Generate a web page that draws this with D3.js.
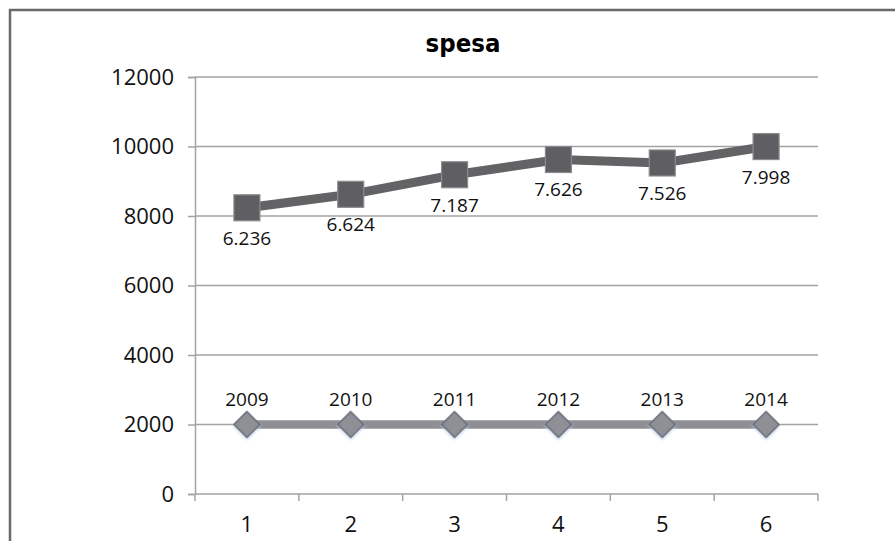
<!DOCTYPE html>
<html>
<head>
<meta charset="utf-8">
<script src="https://cdn.jsdelivr.net/npm/d3@7"></script>
<style>
  html, body { margin: 0; padding: 0; background: #ffffff; }
  svg { display: block; }
</style>
</head>
<body>
<svg id="chart" width="895" height="541"></svg>
<script>
// ---- data ----
const categories = ["1", "2", "3", "4", "5", "6"];
const years = ["2009", "2010", "2011", "2012", "2013", "2014"];
const baseValues = [2000, 2000, 2000, 2000, 2000, 2000];
const spesaValues = [6236, 6624, 7187, 7626, 7526, 7998];
const yTicks = [0, 2000, 4000, 6000, 8000, 10000, 12000];
const chartTitle = "spesa";

const svg = d3.select("#chart");

// outer frame of the chart area (extends past the window)
svg.append("rect")
  .attr("x", 10).attr("y", 10)
  .attr("width", 1000).attr("height", 700)
  .attr("fill", "#ffffff")
  .attr("stroke", "#6a6a6a")
  .attr("stroke-width", 2.5);

const plot = { left: 195, right: 818, top: 77, bottom: 494 };

const x = d3.scaleBand().domain(categories).range([plot.left, plot.right]).padding(0);
const y = d3.scaleLinear().domain([0, 12000]).range([plot.bottom, plot.top]);

// stacked values (stacked line chart)
const rows = categories.map((c, i) => ({ cat: c, year: years[i], base: baseValues[i], spesa: spesaValues[i] }));
const stack = d3.stack().keys(["base", "spesa"]);
const series = stack(rows);

const itFmt = d3.formatLocale({ decimal: ",", thousands: ".", grouping: [3], currency: ["€", ""] }).format(",d");

// gridlines
svg.append("g").selectAll("line")
  .data(yTicks.filter(d => d > 0))
  .join("line")
  .attr("x1", plot.left).attr("x2", plot.right)
  .attr("y1", d => y(d)).attr("y2", d => y(d))
  .attr("stroke", "#a3a3a3").attr("stroke-width", 1.5);

// y axis
const yAxis = svg.append("g")
  .attr("transform", `translate(${plot.left},0)`)
  .call(d3.axisLeft(y).tickValues(yTicks).tickSize(7).tickPadding(14).tickFormat(d3.format("d")));
yAxis.select(".domain").attr("stroke", "#a3a3a3").attr("stroke-width", 1.5);
yAxis.selectAll(".tick line").attr("stroke", "#a3a3a3").attr("stroke-width", 1.5);
yAxis.selectAll(".tick text")
  .attr("fill", "#111")
  .style("font-family", "'Open Sans', sans-serif")
  .style("font-size", "22px");

// x axis
const xAxisG = svg.append("g").attr("transform", `translate(0,${plot.bottom})`);
xAxisG.append("line")
  .attr("x1", plot.left).attr("x2", plot.right)
  .attr("y1", 0).attr("y2", 0)
  .attr("stroke", "#a3a3a3").attr("stroke-width", 1.5);
const edges = categories.map(c => x(c)).concat([x(categories[categories.length - 1]) + x.bandwidth()]);
xAxisG.selectAll("line.tk")
  .data(edges)
  .join("line")
  .attr("class", "tk")
  .attr("x1", d => d).attr("x2", d => d)
  .attr("y1", 0).attr("y2", 7)
  .attr("stroke", "#a3a3a3").attr("stroke-width", 1.5);
xAxisG.selectAll("text")
  .data(categories)
  .join("text")
  .attr("x", d => x(d) + x.bandwidth() / 2)
  .attr("y", 38)
  .attr("text-anchor", "middle")
  .attr("fill", "#111")
  .style("font-family", "'Open Sans', sans-serif")
  .style("font-size", "22px")
  .text(d => d);

const cx = d => x(d.data.cat) + x.bandwidth() / 2;

// glow filter for diamonds
const defs = svg.append("defs");
const f = defs.append("filter").attr("id", "glow").attr("x", "-50%").attr("y", "-50%").attr("width", "200%").attr("height", "200%");
f.append("feDropShadow").attr("dx", 1).attr("dy", 1).attr("stdDeviation", 1.5).attr("flood-color", "#b8c8e0").attr("flood-opacity", 0.9);

// series: base (2000, labelled by year)
const baseS = series[0];
const line = d3.line().x(cx).y(d => y(d[1]));
svg.append("path")
  .datum(baseS)
  .attr("d", line)
  .attr("fill", "none")
  .attr("stroke", "#8e8f94")
  .attr("stroke-width", 8.5);
svg.append("g").selectAll("path")
  .data(baseS)
  .join("path")
  .attr("d", d3.symbol(d3.symbolSquare, 340)())
  .attr("transform", d => `translate(${cx(d)},${y(d[1])}) rotate(45)`)
  .attr("fill", "#8f9096")
  .attr("stroke", "#5b6170")
  .attr("stroke-width", 1.2)
  .attr("filter", "url(#glow)");
svg.append("g").selectAll("text")
  .data(baseS)
  .join("text")
  .attr("x", cx)
  .attr("y", d => y(d[1]) - 19)
  .attr("text-anchor", "middle")
  .attr("fill", "#111")
  .style("font-family", "'Open Sans', sans-serif")
  .style("font-size", "19px")
  .text(d => d.data.year);

// series: spesa (stacked)
const spS = series[1];
svg.append("path")
  .datum(spS)
  .attr("d", line)
  .attr("fill", "none")
  .attr("stroke", "#636366")
  .attr("stroke-width", 9);
const sq = 26;
svg.append("g").selectAll("rect")
  .data(spS)
  .join("rect")
  .attr("x", d => cx(d) - sq / 2)
  .attr("y", d => y(d[1]) - sq / 2)
  .attr("width", sq).attr("height", sq)
  .attr("fill", "#5f5f63")
  .attr("stroke", "#8c8c8c")
  .attr("stroke-width", 1.2);
svg.append("g").selectAll("text")
  .data(spS)
  .join("text")
  .attr("x", cx)
  .attr("y", d => y(d[1]) + 37)
  .attr("text-anchor", "middle")
  .attr("fill", "#111")
  .style("font-family", "'Open Sans', sans-serif")
  .style("font-size", "19px")
  .text(d => itFmt(d.data.spesa));

// title
svg.append("text")
  .attr("x", 463)
  .attr("y", 52)
  .attr("text-anchor", "middle")
  .attr("fill", "#000")
  .style("font-family", "'DejaVu Sans Condensed', sans-serif")
  .style("font-weight", "bold")
  .style("font-size", "25.5px")
  .text(chartTitle);
</script>
</body>
</html>
